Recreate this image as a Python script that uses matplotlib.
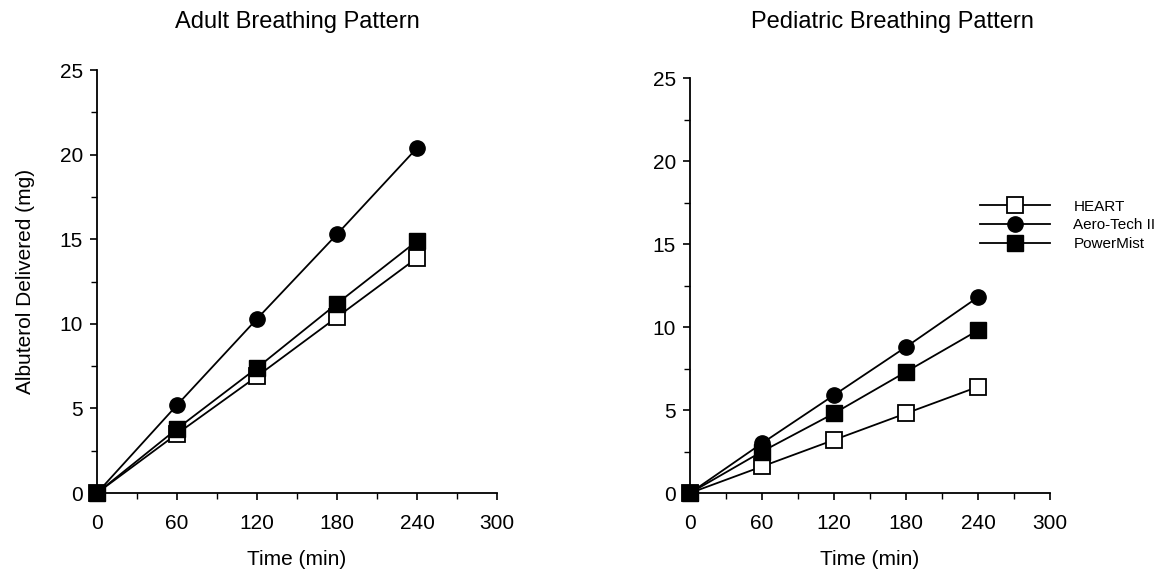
import matplotlib.pyplot as plt
from matplotlib.ticker import MultipleLocator

plt.rcParams['font.family'] = ['Liberation Sans', 'DejaVu Sans']

time_min = [0, 60, 120, 180, 240]

adult_heart = [0, 3.5, 6.9, 10.4, 13.9]
adult_aero = [0, 5.2, 10.3, 15.3, 20.4]
adult_power = [0, 3.8, 7.4, 11.2, 14.9]

ped_heart = [0, 1.6, 3.2, 4.8, 6.4]
ped_aero = [0, 3.0, 5.9, 8.8, 11.8]
ped_power = [0, 2.5, 4.8, 7.3, 9.8]

fig = plt.figure(figsize=(11.63, 5.7), dpi=100)
ax1 = fig.add_axes([0.0834, 0.135, 0.344, 0.742])
ax2 = fig.add_axes([0.5933, 0.135, 0.3095, 0.728])


def draw(ax, heart, aero, power):
    style = dict(color='black', lw=1.3, markersize=11, clip_on=False)
    ax.plot(time_min, heart, marker='s', markerfacecolor='white',
            markeredgecolor='black', markeredgewidth=1.3, label='HEART', **style)
    ax.plot(time_min, aero, marker='o', markerfacecolor='black',
            label='Aero-Tech II', **style)
    ax.plot(time_min, power, marker='s', markerfacecolor='black',
            label='PowerMist', **style)
    ax.set_xlim(0, 300)
    ax.set_ylim(0, 25)
    ax.xaxis.set_major_locator(MultipleLocator(60))
    ax.xaxis.set_minor_locator(MultipleLocator(30))
    ax.yaxis.set_major_locator(MultipleLocator(5))
    ax.yaxis.set_minor_locator(MultipleLocator(2.5))
    for s in ['top', 'right']:
        ax.spines[s].set_visible(False)
    for s in ['left', 'bottom']:
        ax.spines[s].set_linewidth(1.3)
    ax.tick_params(which='major', direction='out', length=5, width=1.2,
                   labelsize=15)
    ax.tick_params(which='minor', direction='out', length=4, width=1.0)
    ax.tick_params(axis='x', pad=10)
    ax.tick_params(axis='y', pad=5)
    ax.set_xlabel('Time (min)', fontsize=15, labelpad=12)


draw(ax1, adult_heart, adult_aero, adult_power)
draw(ax2, ped_heart, ped_aero, ped_power)
ax1.set_ylabel('Albuterol Delivered (mg)', fontsize=15, labelpad=18)

fig.text(0.2554, 0.961, 'Adult Breathing Pattern', fontsize=17,
         ha='center', va='center')
fig.text(0.767, 0.961, 'Pediatric Breathing Pattern', fontsize=17,
         ha='center', va='center')

ax2.legend(loc='center left', bbox_to_anchor=(0.806, 0.645), frameon=False,
           fontsize=11, handlelength=4.6, handletextpad=1.5,
           labelspacing=0.3, borderpad=0, borderaxespad=0)

fig.savefig('out.png', dpi=100)
